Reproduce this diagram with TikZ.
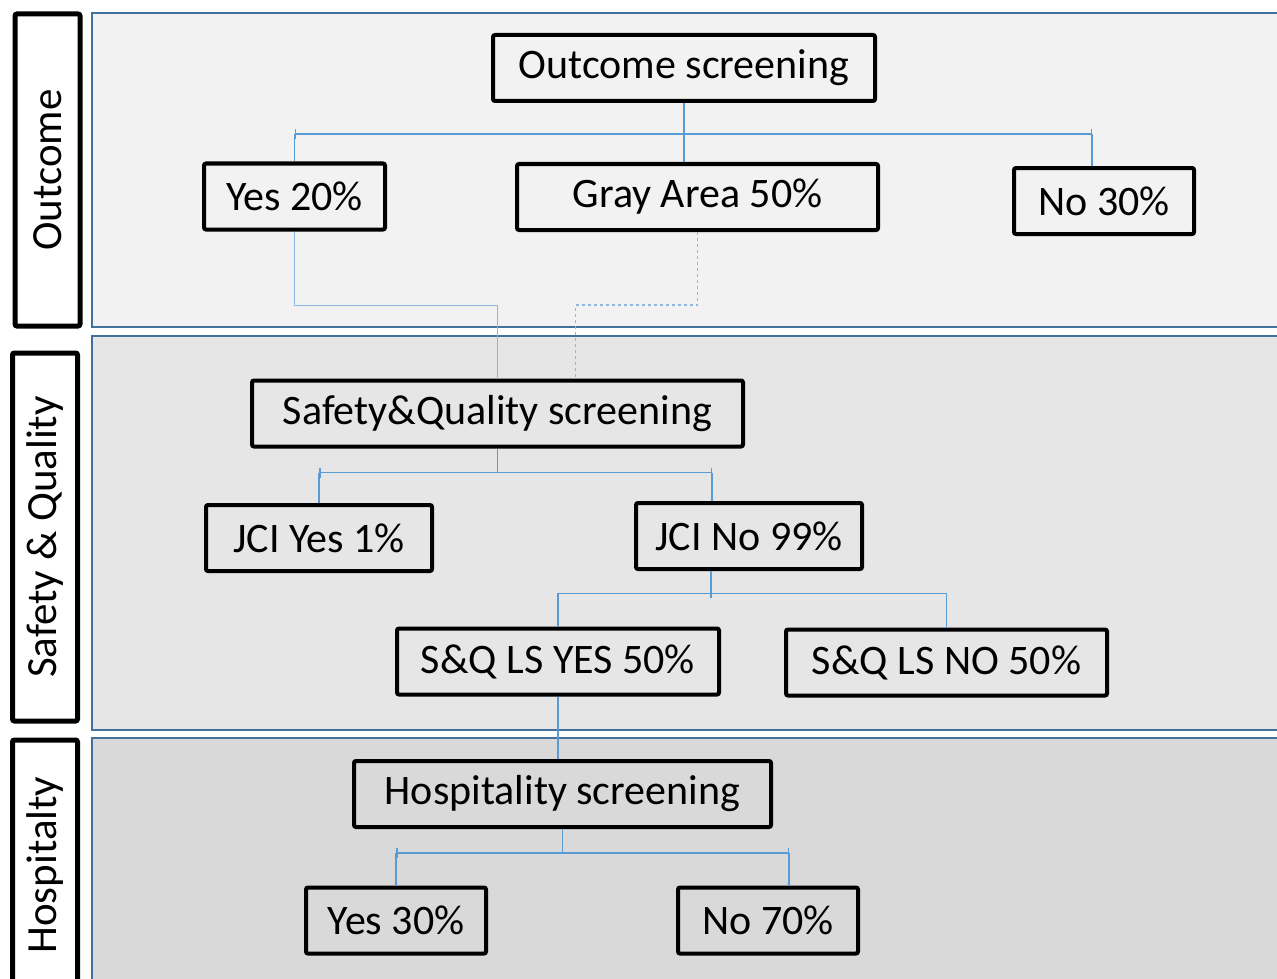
\documentclass[tikz,border=0pt]{standalone}
\usepackage{fontspec}
\setmainfont{Carlito}
\usetikzlibrary{arrows.meta}

\definecolor{lanea}{HTML}{F2F2F2}
\definecolor{laneb}{HTML}{E6E6E6}
\definecolor{lanec}{HTML}{D9D9D9}
\definecolor{laneline}{HTML}{41719C}
\definecolor{linkblue}{HTML}{5B9BD5}
\definecolor{linklight}{HTML}{8FB8E0}

\begin{document}
\begin{tikzpicture}[x=1pt,y=-1pt,
  box/.style={draw=black,line width=4pt,rounded corners=2pt,inner sep=0pt,
    minimum height=66pt,font=\fontsize{42}{50}\selectfont},
  tag/.style={draw=black,fill=white,line width=5pt,rounded corners=2pt,rotate=90,
    inner sep=0pt,minimum height=65pt,font=\fontsize{43}{50}\selectfont},
  lane/.style={draw=laneline,line width=2pt},
  wire/.style={draw=linkblue,line width=1.5pt},
  bus/.style={wire,{Bar[width=10pt]}-{Bar[width=10pt]}}]
\useasboundingbox (0,0) rectangle (1277,979);
\clip (0,0) rectangle (1277,979);

% lanes
\draw[lane,fill=lanea] (92,13) rectangle (1300,327);
\draw[lane,fill=laneb] (92,336) rectangle (1300,730);
\draw[lane,fill=lanec] (92,738) rectangle (1300,1000);

\node[tag,minimum width=312pt] (tagout) at (47.5,170) {Outcome};
\node[tag,minimum width=368pt] (tagsq) at (45,537) {Safety \& Quality};
\node[tag,minimum width=250pt] (taghosp) at (45,865) {Hospitalty};

% outcome
\node[box,minimum width=382pt] (top) at (684,68) {Outcome screening};
\node[box,minimum width=181pt] (yes20) at (294.5,196.5) {Yes 20\%};
\node[box,minimum width=361pt] (gray) at (697.5,197) {Gray Area 50\%};
\node[box,minimum width=180pt] (no30) at (1104,201) {No 30\%};

% safety and quality
\node[box,minimum width=491pt] (sq) at (497.5,413.5) {Safety\&Quality screening};
\node[box,minimum width=226pt] (jciyes) at (319,538) {JCI Yes 1\%};
\node[box,minimum width=226pt] (jcino) at (749,536) {JCI No 99\%};
\node[box,minimum width=322pt] (lsyes) at (558,661.5) {S\&Q LS YES 50\%};
\node[box,minimum width=321pt] (lsno) at (946.5,662.5) {S\&Q LS NO 50\%};

% hospitality
\node[box,minimum width=417pt] (hosp) at (562.5,794) {Hospitality screening};
\node[box,minimum width=180pt] (yes30) at (396,920.5) {Yes 30\%};
\node[box,minimum width=180pt] (no70) at (768,920.5) {No 70\%};

% outcome links
\coordinate (busa) at (0,134);
\coordinate (n30) at ([xshift=-12pt]no30.north);
\draw[wire] (top.south) -- (top.south |- gray.north);
\draw[bus] (yes20.north |- busa) -- (n30 |- busa);
\draw[wire] (yes20.north |- busa) -- (yes20.north);
\draw[wire] (n30 |- busa) -- (n30);

\draw[wire,draw=linklight,line width=1.8pt] (yes20.south) -- ++(0,74) -| (sq.north);
\draw[wire,draw=linklight,line width=1.8pt,dashed] (gray.south) -- ++(0,73) -| ([xshift=78pt]sq.north);

% safety links
\draw[wire] (sq.south) -- ++(0,24) coordinate (busb);
\coordinate (jn) at ([xshift=-37pt]jcino.north);
\draw[bus] (jciyes.north |- busb) -- (jn |- busb);
\draw[wire] (jciyes.north |- busb) -- (jciyes.north);
\draw[wire] (jn |- busb) -- (jn);

\draw[wire] ([xshift=-38pt]jcino.south) -- ++(0,27);
\draw[wire] (lsyes.north) -- ++(0,-33) -| (lsno.north);
\draw[wire] (lsyes.south) -- (lsyes.south |- hosp.north);

% hospitality links
\draw[wire] (hosp.south) -- ++(0,24) coordinate (busc);
\coordinate (n70) at ([xshift=21pt]no70.north);
\draw[bus] (yes30.north |- busc) -- (n70 |- busc);
\draw[wire] (yes30.north |- busc) -- (yes30.north);
\draw[wire] (n70 |- busc) -- (n70);
\end{tikzpicture}
\end{document}
